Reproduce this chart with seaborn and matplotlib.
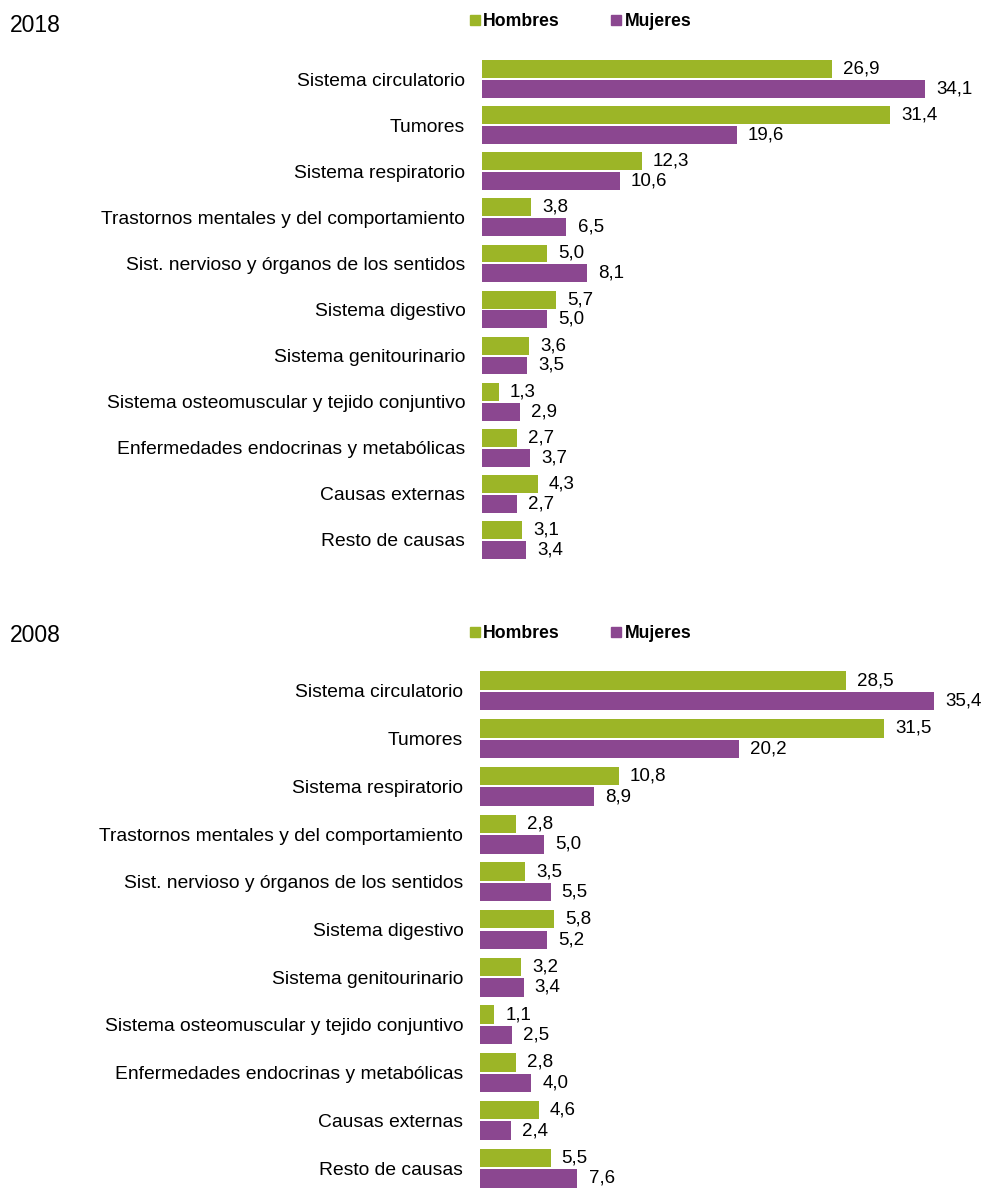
import pandas as pd
import matplotlib
matplotlib.use("Agg")
import matplotlib.pyplot as plt
from matplotlib.lines import Line2D
import seaborn as sns

causas = ["Sistema circulatorio", "Tumores", "Sistema respiratorio",
          "Trastornos mentales y del comportamiento",
          "Sist. nervioso y órganos de los sentidos", "Sistema digestivo",
          "Sistema genitourinario", "Sistema osteomuscular y tejido conjuntivo",
          "Enfermedades endocrinas y metabólicas", "Causas externas",
          "Resto de causas"]

hombres_2018 = [26.9, 31.4, 12.3, 3.8, 5.0, 5.7, 3.6, 1.3, 2.7, 4.3, 3.1]
mujeres_2018 = [34.1, 19.6, 10.6, 6.5, 8.1, 5.0, 3.5, 2.9, 3.7, 2.7, 3.4]
hombres_2008 = [28.5, 31.5, 10.8, 2.8, 3.5, 5.8, 3.2, 1.1, 2.8, 4.6, 5.5]
mujeres_2008 = [35.4, 20.2, 8.9, 5.0, 5.5, 5.2, 3.4, 2.5, 4.0, 2.4, 7.6]

sexos = ["Hombres", "Mujeres"]
colores = {"Hombres": "#9cb527", "Mujeres": "#8b4790"}

sns.set_theme(style="white")
plt.rcParams["font.family"] = ["Liberation Sans", "DejaVu Sans"]
plt.rcParams["text.color"] = "black"
plt.rcParams["ytick.color"] = "black"

fig = plt.figure(figsize=(9.87, 11.89), dpi=100)


def panel(rect, year, year_y, hombres, mujeres, xmax, leg_y):
    df = pd.DataFrame({
        "causa": causas * 2,
        "sexo": ["Hombres"] * len(causas) + ["Mujeres"] * len(causas),
        "valor": hombres + mujeres,
    })
    ax = fig.add_axes(rect)
    sns.barplot(data=df, y="causa", x="valor", hue="sexo", hue_order=sexos,
                palette=colores, orient="h", width=0.86, gap=0.1,
                saturation=1, linewidth=0, legend=False, ax=ax)
    for cont in ax.containers:
        labels = [f"{b.get_width():.1f}".replace(".", ",") for b in cont]
        ax.bar_label(cont, labels=labels, padding=8, fontsize=13.5, color="black")
    ax.set_xlim(0, xmax)
    ax.set_ylim(10.5, -0.5)
    ax.set_xlabel("")
    ax.set_ylabel("")
    ax.set_xticks([])
    ax.tick_params(axis="y", length=0, pad=12, labelsize=13.9, labelcolor="black")
    sns.despine(ax=ax, left=True, bottom=True)
    fig.text(10 / 987, year_y, year, fontsize=16.5, va="center")
    handles = [Line2D([], [], marker="s", linestyle="", markersize=6.5,
                      color=colores[s]) for s in sexos]
    fig.legend(handles, sexos, loc="center left", ncol=2, frameon=False,
               bbox_to_anchor=(470 / 987 - 0.008, leg_y), handlelength=0.7,
               handletextpad=0.1, columnspacing=2.85, borderaxespad=0,
               borderpad=0.4, prop={"weight": "bold", "size": 12.7})
    return ax


panel([0.4883, 0.5265, 0.5005, 0.4264], "2018", 1 - 26 / 1189,
      hombres_2018, mujeres_2018, 38, 1 - 22 / 1189)
panel([0.4863, -0.0025, 0.5005, 0.4415], "2008", 1 - 635 / 1189,
      hombres_2008, mujeres_2008, 38.5, 1 - 634 / 1189)

fig.savefig("out.png", dpi=100)
